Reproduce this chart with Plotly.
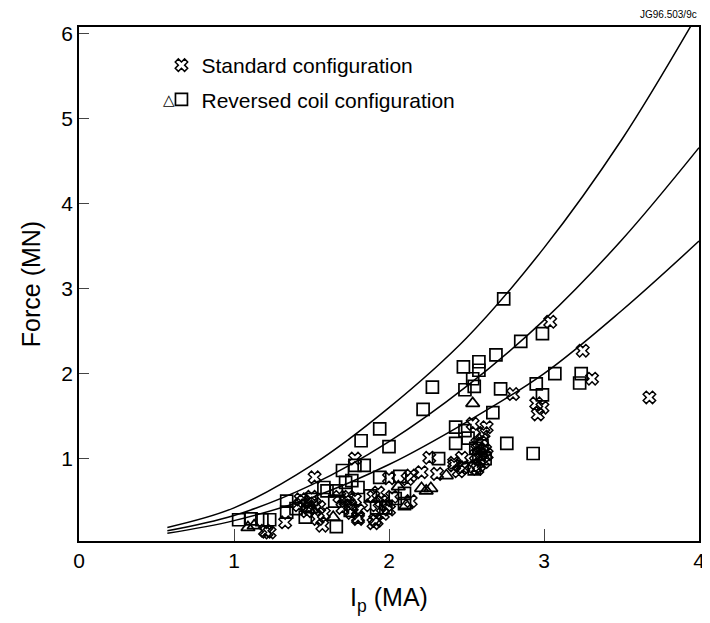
import plotly.graph_objects as go

# Fit curves
curve_x = [0.57, 1.0, 1.5, 2.0, 2.5, 3.0, 3.5, 3.95]
curve_top = [0.19, 0.42, 0.92, 1.60, 2.42, 3.48, 4.75, 6.10]
curve_x2 = [0.57, 1.0, 1.5, 2.0, 2.5, 3.0, 3.5, 4.0]
curve_mid = [0.15, 0.33, 0.69, 1.20, 1.85, 2.63, 3.57, 4.66]
curve_bot = [0.12, 0.27, 0.54, 0.93, 1.43, 2.00, 2.74, 3.56]

# Standard configuration (crosses)
std_ip = [1.20, 1.23, 1.21, 1.33, 1.52, 1.57, 1.54, 1.80, 1.91, 1.92, 1.90, 1.78,
          2.00, 2.12, 2.14, 2.26, 2.21, 2.31, 2.14, 2.42, 2.47, 2.47, 2.42, 2.48,
          2.54, 2.63, 2.61, 2.80, 2.95, 2.99, 2.96, 3.04, 3.25, 3.31, 3.68,
          1.42, 1.45, 1.48, 1.50, 1.52, 1.47, 1.55, 1.58, 1.43,
          1.68, 1.72, 1.75, 1.70, 1.78, 1.80, 1.80, 1.74, 1.76,
          1.90, 1.95, 1.98, 1.93, 2.00, 1.96, 2.02, 1.88,
          2.57, 2.58, 2.60, 2.56, 2.59, 2.61, 2.58, 2.62, 2.57, 2.60, 2.63,
          2.55, 2.45]
std_f = [0.15, 0.13, 0.14, 0.25, 0.78, 0.21, 0.29, 0.31, 0.28, 0.27, 0.24, 1.00,
         0.77, 0.76, 0.50, 1.01, 0.84, 0.82, 0.80, 0.92, 1.01, 0.89, 0.95, 0.90,
         1.41, 1.37, 1.30, 1.76, 1.65, 1.60, 1.52, 2.61, 2.27, 1.94, 1.72,
         0.45, 0.50, 0.42, 0.55, 0.47, 0.38, 0.43, 0.35, 0.52,
         0.55, 0.50, 0.45, 0.42, 0.52, 0.39, 0.29, 0.55, 0.36,
         0.55, 0.50, 0.45, 0.60, 0.40, 0.35, 0.55, 0.45,
         1.18, 1.12, 1.08, 1.04, 1.00, 0.96, 0.92, 1.10, 0.88, 1.22, 1.05,
         0.90, 0.85]

# Reversed coil configuration (triangles)
tri_ip = [1.09, 1.13, 1.64, 2.06, 2.11, 2.21, 2.24, 2.27, 2.37, 2.54, 1.50]
tri_f = [0.19, 0.21, 0.31, 0.67, 0.45, 0.65, 0.62, 0.65, 0.80, 1.65, 0.40]

# Reversed coil configuration (squares)
sq_ip = [1.03, 1.11, 1.18, 1.23, 1.34, 1.34, 1.40, 1.46, 1.58, 1.66, 1.65, 1.66,
         1.70, 1.72, 1.76, 1.78, 1.84, 1.80, 1.60, 1.75, 1.82, 1.94, 2.00, 1.94,
         2.07, 1.88, 1.92, 1.98, 2.10, 2.10, 2.04, 2.22, 2.28, 2.32, 2.43, 2.49,
         2.43, 2.51, 2.48, 2.58, 2.58, 2.54, 2.55, 2.49, 2.72, 2.67, 2.76, 2.93,
         2.69, 2.85, 2.99, 2.74, 2.95, 2.99, 3.07, 3.24, 3.23, 2.55, 2.58, 2.60,
         2.56, 2.62, 1.50]
sq_f = [0.28, 0.29, 0.28, 0.28, 0.50, 0.37, 0.41, 0.31, 0.66, 0.62, 0.50, 0.20,
        0.86, 0.72, 0.74, 0.92, 0.92, 0.66, 0.62, 0.39, 1.21, 1.35, 1.14, 0.78,
        0.79, 0.56, 0.42, 0.42, 0.59, 0.47, 0.53, 1.58, 1.84, 1.00, 1.37, 1.33,
        1.18, 1.24, 2.08, 2.14, 2.04, 1.94, 1.85, 1.81, 1.82, 1.54, 1.18, 1.06,
        2.22, 2.38, 2.47, 2.88, 1.88, 1.75, 2.00, 2.00, 1.89, 0.88, 1.05, 1.15,
        1.12, 1.00, 0.52]

FONT = "Liberation Sans, Arial, sans-serif"

fig = go.Figure()
for cx, cy in [(curve_x, curve_top), (curve_x2, curve_mid), (curve_x2, curve_bot)]:
    fig.add_trace(go.Scatter(x=cx, y=cy, mode="lines", line=dict(color="black", width=1.5, shape="spline"),
                             showlegend=False, hoverinfo="skip"))

fig.add_trace(go.Scatter(x=sq_ip, y=sq_f, mode="markers", name="Reversed coil configuration",
                         legendgroup="rev", legendrank=2,
                         marker=dict(symbol="square-open", size=12, color="black", line=dict(width=1.7))))
fig.add_trace(go.Scatter(x=tri_ip, y=tri_f, mode="markers", name="Reversed coil (triangles)", showlegend=False,
                         legendgroup="rev",
                         marker=dict(symbol="triangle-up-open", size=12, color="black", line=dict(width=1.7))))
fig.add_trace(go.Scatter(x=std_ip, y=std_f, mode="markers", name="Standard configuration",
                         legendgroup="std", legendrank=1,
                         marker=dict(symbol="x-open", size=11, color="black", line=dict(width=1.5))))

fig.update_layout(
    width=702, height=615,
    margin=dict(l=71, r=5, t=19, b=82),
    paper_bgcolor="white", plot_bgcolor="white",
    font=dict(family=FONT, size=21, color="black"),
    legend=dict(x=0.133, y=0.965, xanchor="left", yanchor="top", bgcolor="rgba(0,0,0,0)",
                font=dict(size=21), itemwidth=30, tracegroupgap=4),
    annotations=[
        dict(text="JG96.503/9c", x=1.0, y=1.0, xref="paper", yref="paper", xanchor="right", yanchor="bottom",
             yshift=5, showarrow=False, font=dict(size=10, family=FONT)),
        dict(text="\u25b3", x=0.145, y=0.858, xref="paper", yref="paper", xanchor="center", yanchor="middle",
             showarrow=False, font=dict(size=15, family="DejaVu Sans")),
    ],
)
fig.update_xaxes(range=[0, 4], tickvals=[0, 1, 2, 3, 4], ticks="inside", ticklen=12, tickwidth=1.2,
                 showline=True, linecolor="black", linewidth=1.5, mirror=True, showgrid=False, zeroline=False,
                 title=dict(text="I<sub>p</sub> (MA)", standoff=18), tickfont=dict(size=21))
fig.update_yaxes(range=[0.03, 6.08], tickvals=[1, 2, 3, 4, 5, 6], ticks="inside", ticklen=10, tickwidth=1.2,
                 showline=True, linecolor="black", linewidth=1.5, mirror=True, showgrid=False, zeroline=False,
                 title=dict(text="Force (MN)", standoff=14), tickfont=dict(size=21))

fig.write_html("out.html")
